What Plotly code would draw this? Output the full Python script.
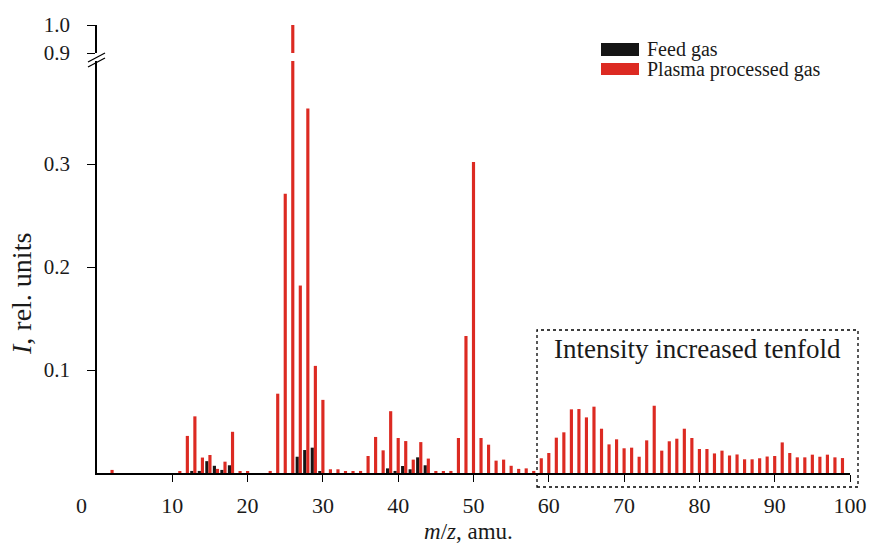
import plotly.graph_objects as go

# ---------------- data ----------------
# Plasma processed gas (m/z 59-99 shown with intensity x10, as in the figure)
mz_plasma = [2, 11, 12, 13, 14, 15, 16, 17, 18, 19, 20, 23, 24, 25, 26, 27, 28, 29, 30,
             31, 32, 33, 34, 35, 36, 37, 38, 39, 40, 41, 42, 43, 44, 45, 46, 47, 48, 49,
             50, 51, 52, 53, 54, 55, 56, 57, 58,
             59, 60, 61, 62, 63, 64, 65, 66, 67, 68, 69, 70, 71, 72, 73, 74, 75, 76, 77,
             78, 79, 80, 81, 82, 83, 84, 85, 86, 87, 88, 89, 90, 91, 92, 93, 94, 95, 96,
             97, 98, 99]
plasma = [0.003, 0.001, 0.036, 0.055, 0.015, 0.0175, 0.004, 0.011, 0.040, 0.001, 0.001,
          0.002, 0.077, 0.271, 1.0, 0.182, 0.354, 0.104, 0.071,
          0.0036, 0.0036, 0.001, 0.001, 0.002, 0.0165, 0.035, 0.022, 0.060, 0.034, 0.031,
          0.013, 0.030, 0.014, 0.001, 0.001, 0.002, 0.034, 0.133,
          0.302, 0.034, 0.0275, 0.012, 0.013, 0.007, 0.004, 0.0045, 0.002,
          0.0143, 0.0194, 0.0343, 0.0395, 0.0618, 0.0621, 0.054, 0.0644, 0.043, 0.0278,
          0.0327, 0.024, 0.0246, 0.0158, 0.0317, 0.0653, 0.0217, 0.0308, 0.0333,
          0.043, 0.034, 0.0233, 0.0233, 0.019, 0.0217, 0.017, 0.018, 0.0133, 0.0133,
          0.0143, 0.016, 0.0165, 0.0297, 0.0194, 0.0152, 0.0152, 0.0178, 0.0158,
          0.0178, 0.0152, 0.0145]

# Feed gas
mz_feed = [13, 14, 15, 16, 17, 18, 27, 28, 29, 30, 39, 40, 41, 42, 43, 44]
feed = [0.002, 0.002, 0.0115, 0.007, 0.003, 0.0075, 0.0158, 0.0223, 0.0246, 0.001,
        0.0045, 0.002, 0.0068, 0.0036, 0.0152, 0.0075]

x_ticks = [10, 20, 30, 40, 50, 60, 70, 80, 90, 100]
y_ticks_low = [0.1, 0.2, 0.3]
y_ticks_high = [0.9, 1.0]

RED = "#dc2a22"
BLACK = "#151515"
FONT = "Liberation Serif"
TXT = "#1a1a1a"

# ---------------- geometry (page pixels) ----------------
W, H = 871, 544
X0, X1 = 97, 850      # page x of m/z 0 and 100
Y0, Y1 = 473, 25      # page y of plot bottom and top
L, T = X0, Y1
R = W - X1
B = H - Y0
PW, PH = X1 - X0, Y0 - Y1


def px(x):
    return (x - X0) / PW


def py(y):
    return (Y0 - y) / PH


fig = go.Figure()

fig.add_trace(go.Bar(x=mz_feed, y=feed, width=0.42, offset=-0.62,
                     marker=dict(color=BLACK, line=dict(width=0)),
                     name="Feed gas", showlegend=False))
fig.add_trace(go.Bar(x=mz_plasma, y=plasma, width=0.42, offset=-0.21,
                     marker=dict(color=RED, line=dict(width=0)),
                     name="Plasma processed gas", showlegend=False))
# upper (broken) part of the axis
fig.add_trace(go.Bar(x=mz_plasma, y=plasma, width=0.42, offset=-0.21,
                     marker=dict(color=RED, line=dict(width=0)),
                     xaxis="x", yaxis="y2", showlegend=False, hoverinfo="skip"))

y_font = dict(family=FONT, size=21, color=TXT)
x_font = dict(family=FONT, size=22, color=TXT)

fig.update_layout(
    width=W, height=H,
    margin=dict(l=L, r=R, t=T, b=B, autoexpand=False),
    paper_bgcolor="white", plot_bgcolor="white",
    barmode="overlay",
    font=dict(family=FONT, color=TXT),
    xaxis=dict(range=[0, 100], tickvals=x_ticks, ticks="outside", ticklen=7,
               tickwidth=1.3, tickcolor="black", showline=True, linecolor="black",
               linewidth=1.5, showgrid=False, zeroline=False, tickfont=x_font,
               ticklabelstandoff=5),
    yaxis=dict(domain=[0, py(61)], range=[0, 0.4], tickvals=y_ticks_low,
               ticktext=["0.1", "0.2", "0.3"],
               ticks="outside", ticklen=8, tickwidth=1.3, tickcolor="black",
               showline=True, linecolor="black", linewidth=1.5, showgrid=False,
               zeroline=False, tickfont=y_font, ticklabelstandoff=13),
    yaxis2=dict(domain=[py(53), 1.0], range=[0.9, 1.0], anchor="x",
                tickvals=y_ticks_high, ticktext=["0.9", "1.0"],
                ticks="outside", ticklen=8, tickwidth=1.3, tickcolor="black",
                showline=True, linecolor="black", linewidth=1.5, showgrid=False,
                zeroline=False, tickfont=y_font, ticklabelstandoff=13),
)

shapes = []
# axis break marks
for dy in (0, 5):
    shapes.append(dict(type="line", xref="paper", yref="paper",
                       x0=px(88), y0=py(62 + dy), x1=px(105), y1=py(53 + dy),
                       line=dict(color="black", width=1.3)))
# dashed box for the tenfold region
shapes.append(dict(type="rect", xref="paper", yref="paper",
                   x0=px(537), x1=px(858), y0=py(487), y1=py(330),
                   line=dict(color="black", width=1.3, dash="dot")))
# legend swatches
shapes.append(dict(type="rect", xref="paper", yref="paper",
                   x0=px(601), x1=px(639), y0=py(56), y1=py(43),
                   fillcolor=BLACK, line=dict(width=0)))
shapes.append(dict(type="rect", xref="paper", yref="paper",
                   x0=px(601), x1=px(639), y0=py(75), y1=py(63),
                   fillcolor=RED, line=dict(width=0)))
fig.update_layout(shapes=shapes)

ann = [
    dict(text="Feed gas", x=px(645), y=py(49), xanchor="left", yanchor="middle",
         font=dict(family=FONT, size=20, color=TXT)),
    dict(text="Plasma processed gas", x=px(645), y=py(69), xanchor="left",
         yanchor="middle", font=dict(family=FONT, size=20, color=TXT)),
    dict(text="Intensity increased tenfold", x=px(697), y=py(349), xanchor="center",
         yanchor="middle", font=dict(family=FONT, size=27, color=TXT)),
    dict(text="0", x=px(81), y=py(505), xanchor="center", yanchor="middle",
         font=x_font),
    dict(text="<i>m</i>/<i>z</i>, amu.", x=px(468), y=py(531), xanchor="center",
         yanchor="middle", font=dict(family=FONT, size=23, color=TXT)),
    dict(text="<i>I</i>, rel. units", x=px(21), y=py(294), xanchor="center",
         yanchor="middle", textangle=-90,
         font=dict(family=FONT, size=28, color=TXT)),
]
for a in ann:
    a.update(xref="paper", yref="paper", showarrow=False)
fig.update_layout(annotations=ann)

fig.write_html("out.html",
               config={"displayModeBar": False},
               post_script="document.body.style.margin='0px';"
                           "document.body.style.overflow='hidden';")
